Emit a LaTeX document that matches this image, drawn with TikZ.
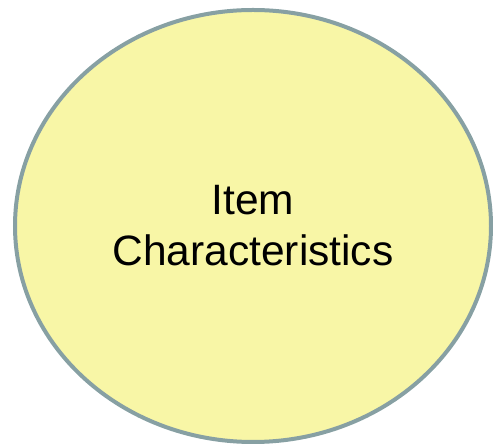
\documentclass[tikz,border=0pt]{standalone}
\usepackage{fontspec}
\setmainfont{Liberation Sans}
\usepackage{tikz}
\usetikzlibrary{shapes.geometric}

\definecolor{ovalfill}{HTML}{F8F6A6}
\definecolor{ovalline}{HTML}{87A0A3}

\begin{document}
\begin{tikzpicture}[x=1pt,y=1pt]
    \useasboundingbox (0,0) rectangle (493,444); %marco
    %elipse
    \node[ellipse, draw=ovalline, fill=ovalfill, line width=4pt,
          minimum width=476pt, minimum height=432pt, inner sep=0pt,
          align=center, font=\fontsize{42.5}{51}\selectfont]
          (item) at (253,218) {Item\\Characteristics}; %Etiqueta
\end{tikzpicture}
\end{document}
